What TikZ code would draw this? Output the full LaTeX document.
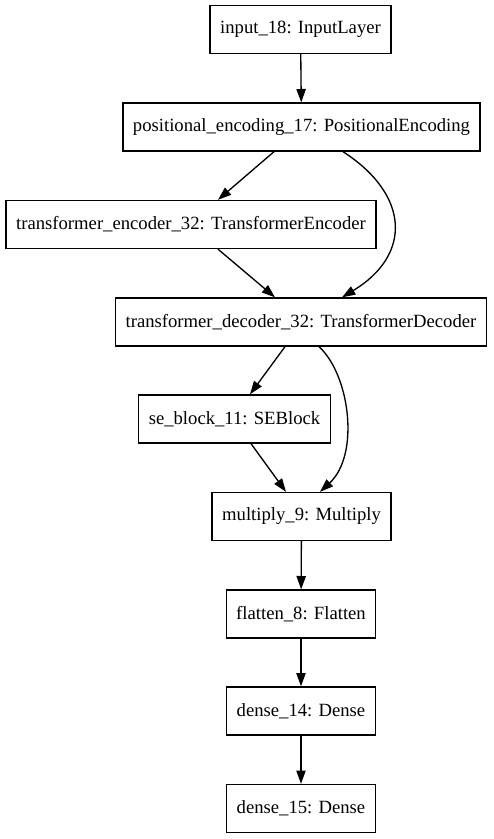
\documentclass[tikz,border=0pt]{standalone}
\usepackage{fontspec}
\setmainfont{Liberation Serif}
\usepackage{tikz}
\usetikzlibrary{arrows.meta,calc}

\begin{document}
\begin{tikzpicture}[x=0.75pt,y=-0.75pt,
    layer/.style={draw,line width=1pt,minimum height=36pt,inner xsep=7.5pt,font=\fontsize{14pt}{16pt}\selectfont},
    conn/.style={line width=1pt,-{Triangle[length=10pt,width=7pt]}}]
  \useasboundingbox (0,0) rectangle (493,839);

  % layers
  \node[layer] (input)   at (300.5,29.5) {input\_18: InputLayer};
  \node[layer] (posenc)  at (301.5,127)  {positional\_encoding\_17: PositionalEncoding};
  \node[layer] (encoder) at (191,224.5)  {transformer\_encoder\_32: TransformerEncoder};
  \node[layer] (decoder) at (301,322)    {transformer\_decoder\_32: TransformerDecoder};
  \node[layer] (seblock) at (234.5,419)  {se\_block\_11: SEBlock};
  \node[layer] (mult)    at (301.5,516.5){multiply\_9: Multiply};
  \node[layer] (flat)    at (301,614)    {flatten\_8: Flatten};
  \node[layer] (denseA)  at (301,711)    {dense\_14: Dense};
  \node[layer] (denseB)  at (301,808.5)  {dense\_15: Dense};

  % edges
  \draw[conn] (input) -- (posenc);
  \draw[conn] ($(posenc.south)+(-27.5,0)$) -- ($(encoder.north)+(27,0)$);
  \draw[conn] ($(posenc.south)+(41.5,0)$) .. controls (410,195) and (412,255) .. ($(decoder.north)+(41,0)$);
  \draw[conn] ($(encoder.south)+(27,0)$) -- ($(decoder.north)+(-26,0)$);
  \draw[conn] ($(decoder.south)+(-16,0)$) -- ($(seblock.north)+(15.5,0)$);
  \draw[conn] ($(decoder.south)+(18,0)$) .. controls (350,375) and (360,455) .. ($(mult.north)+(18.5,0)$);
  \draw[conn] ($(seblock.south)+(16.5,0)$) -- ($(mult.north)+(-15.5,0)$);
  \draw[conn] (mult) -- (flat);
  \draw[conn] (flat) -- (denseA);
  \draw[conn] (denseA) -- (denseB);
\end{tikzpicture}
\end{document}
